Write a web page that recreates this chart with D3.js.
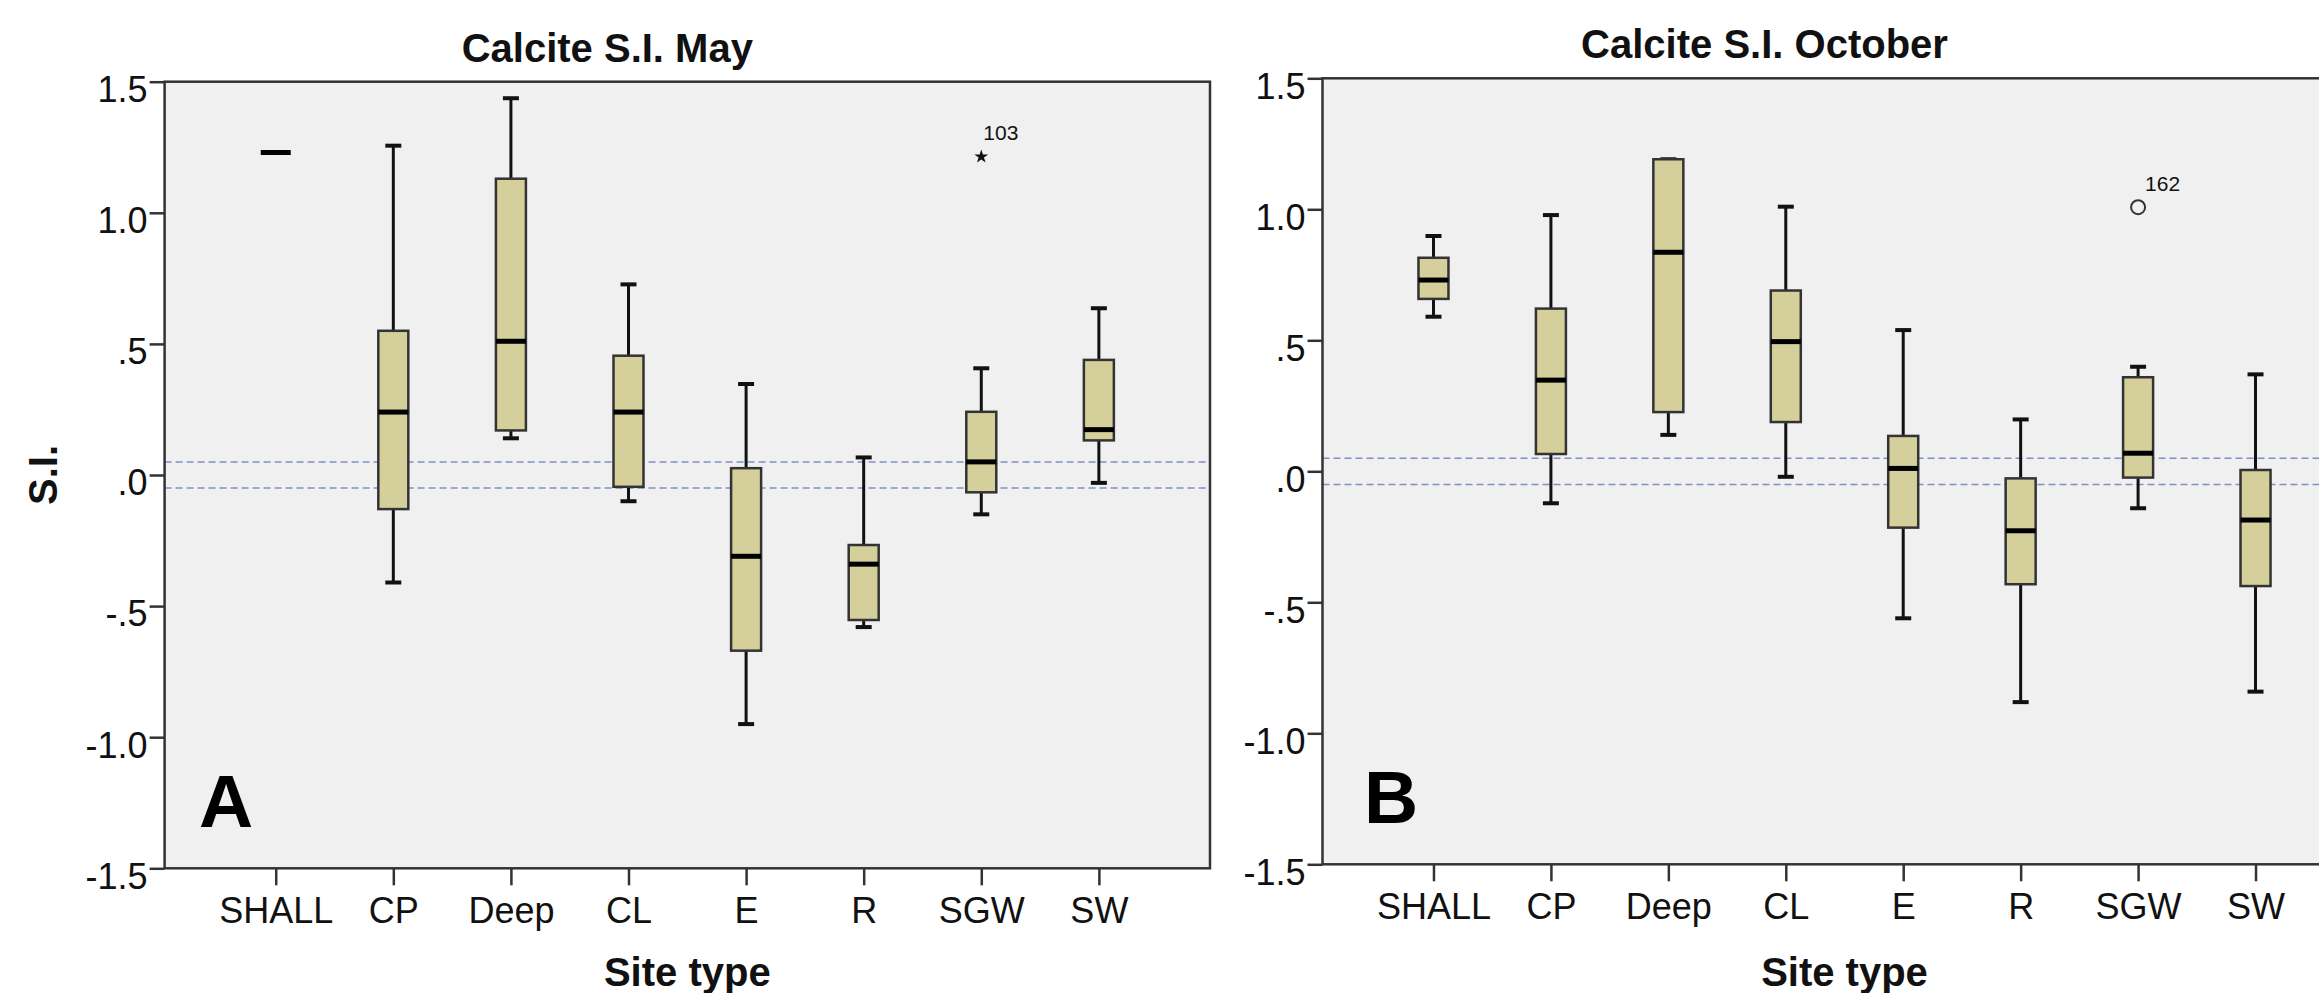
<!DOCTYPE html>
<html>
<head>
<meta charset="utf-8">
<script src="https://cdn.jsdelivr.net/npm/d3@7"></script>
<style>
  html, body { margin: 0; padding: 0; background: #fff; }
  svg { display: block; font-family: "Liberation Sans", Arial, sans-serif; }
</style>
</head>
<body>
<svg id="chart" width="2319" height="993"></svg>
<script>
// ---------- data ----------
const categories = ["SHALL", "CP", "Deep", "CL", "E", "R", "SGW", "SW"];
const yTickValues = [-1.5, -1.0, -0.5, 0, 0.5, 1.0, 1.5];
const yTickLabels = ["-1.5", "-1.0", "-.5", ".0", ".5", "1.0", "1.5"];
const refLines = [0.05, -0.05];

// Calcite S.I. May
const mayLow  = [1.23, -0.41, 0.14, -0.10, -0.95, -0.58, -0.15, -0.03];
const mayQ1   = [1.23, -0.13, 0.17, -0.045, -0.67, -0.553, -0.066, 0.132];
const mayMed  = [1.23, 0.24, 0.51, 0.24, -0.31, -0.34, 0.05, 0.173];
const mayQ3   = [1.23, 0.55, 1.13, 0.455, 0.026, -0.267, 0.241, 0.439];
const mayHigh = [1.23, 1.256, 1.437, 0.727, 0.347, 0.067, 0.407, 0.636];
const mayOutliers = [{ cat: "SGW", value: 1.214, label: "103", kind: "extreme" }];

// Calcite S.I. October
const octLow  = [0.59, -0.122, 0.139, -0.021, -0.561, -0.881, -0.141, -0.841];
const octQ1   = [0.658, 0.066, 0.226, 0.188, -0.215, -0.431, -0.024, -0.438];
const octMed  = [0.73, 0.348, 0.836, 0.495, 0.011, -0.227, 0.069, -0.186];
const octQ3   = [0.815, 0.621, 1.191, 0.69, 0.135, -0.027, 0.359, 0.005];
const octHigh = [0.898, 0.978, 1.191, 1.01, 0.539, 0.198, 0.399, 0.370];
const octOutliers = [{ cat: "SGW", value: 1.008, label: "162", kind: "outlier" }];

// ---------- drawing ----------
const svg = d3.select("#chart");
const FILL = "#d4cf9b";
const BG = "#f0f0f0";
const DARK = "#222";

function panel(cfg) {
  const { left, right, top, bottom, title, letter, letterPos, showYTitle,
          low, q1, med, q3, high, outliers } = cfg;
  const g = svg.append("g");
  const x = d3.scalePoint().domain(categories).range([left, right]).padding(0.945);
  const y = d3.scaleLinear().domain([-1.5, 1.5]).range([bottom, top]);

  // plot background + frame
  g.append("rect")
    .attr("x", left).attr("y", top)
    .attr("width", right - left).attr("height", bottom - top)
    .attr("fill", BG).attr("stroke", "none");

  // reference dashed lines
  g.selectAll(".ref").data(refLines).join("line")
    .attr("x1", left).attr("x2", right)
    .attr("y1", d => y(d)).attr("y2", d => y(d))
    .attr("stroke", "#7f90c4").attr("stroke-width", 1.5)
    .attr("stroke-dasharray", "7,4");

  const rows = categories.map((c, i) => ({ c, low: low[i], q1: q1[i], med: med[i], q3: q3[i], high: high[i] }));
  const bw = 30, cw = 16;
  const bx = g.selectAll(".bx").data(rows).join("g");
  const hasBox = d => d.high !== d.low;

  // whiskers
  bx.filter(hasBox).append("line")
    .attr("x1", d => x(d.c)).attr("x2", d => x(d.c))
    .attr("y1", d => y(d.high)).attr("y2", d => y(d.q3))
    .attr("stroke", "#111").attr("stroke-width", 3);
  bx.filter(hasBox).append("line")
    .attr("x1", d => x(d.c)).attr("x2", d => x(d.c))
    .attr("y1", d => y(d.q1)).attr("y2", d => y(d.low))
    .attr("stroke", "#111").attr("stroke-width", 3);
  // caps
  bx.filter(hasBox).append("line")
    .attr("x1", d => x(d.c) - cw / 2).attr("x2", d => x(d.c) + cw / 2)
    .attr("y1", d => y(d.high)).attr("y2", d => y(d.high))
    .attr("stroke", "#111").attr("stroke-width", 4);
  bx.filter(hasBox).append("line")
    .attr("x1", d => x(d.c) - cw / 2).attr("x2", d => x(d.c) + cw / 2)
    .attr("y1", d => y(d.low)).attr("y2", d => y(d.low))
    .attr("stroke", "#111").attr("stroke-width", 4);
  // boxes
  bx.filter(hasBox).append("rect")
    .attr("x", d => x(d.c) - bw / 2).attr("width", bw)
    .attr("y", d => y(d.q3)).attr("height", d => y(d.q1) - y(d.q3))
    .attr("fill", FILL).attr("stroke", "#333").attr("stroke-width", 2.5);
  // medians
  bx.append("line")
    .attr("x1", d => x(d.c) - bw / 2).attr("x2", d => x(d.c) + bw / 2)
    .attr("y1", d => y(d.med)).attr("y2", d => y(d.med))
    .attr("stroke", "#000").attr("stroke-width", 5);

  // outliers
  outliers.forEach(o => {
    if (o.kind === "extreme") {
      g.append("path")
        .attr("d", d3.symbol(d3.symbolStar, 60)())
        .attr("transform", `translate(${x(o.cat)},${y(o.value)})`)
        .attr("fill", "#111");
      g.append("text").attr("x", x(o.cat) + 2).attr("y", y(o.value) - 17)
        .attr("font-size", 21).attr("fill", "#111").text(o.label);
    } else {
      g.append("circle").attr("cx", x(o.cat)).attr("cy", y(o.value)).attr("r", 7)
        .attr("fill", "none").attr("stroke", "#333").attr("stroke-width", 2);
      g.append("text").attr("x", x(o.cat) + 7).attr("y", y(o.value) - 16)
        .attr("font-size", 21).attr("fill", "#111").text(o.label);
    }
  });

  // frame
  g.append("rect")
    .attr("x", left).attr("y", top)
    .attr("width", right - left).attr("height", bottom - top)
    .attr("fill", "none").attr("stroke", "#333").attr("stroke-width", 2.5);

  // y axis
  const ya = g.append("g").attr("transform", `translate(${left},0)`)
    .call(d3.axisLeft(y).tickValues(yTickValues)
      .tickFormat((d, i) => yTickLabels[i]).tickSize(15).tickPadding(2));
  ya.select(".domain").remove();
  ya.selectAll(".tick line").attr("stroke", "#333").attr("stroke-width", 2.5);
  ya.selectAll(".tick text").attr("font-size", 36).attr("fill", "#111")
    .attr("dy", "0.55em").attr("font-family", "Liberation Sans, Arial, sans-serif");

  // x axis
  const xa = g.append("g").attr("transform", `translate(0,${bottom})`)
    .call(d3.axisBottom(x).tickSize(17).tickPadding(12));
  xa.select(".domain").remove();
  xa.selectAll(".tick line").attr("stroke", "#333").attr("stroke-width", 2.5);
  xa.selectAll(".tick text").attr("font-size", 36).attr("fill", "#111")
    .attr("font-family", "Liberation Sans, Arial, sans-serif");

  // titles
  g.append("text").attr("x", (left + right) / 2 - 80).attr("y", top - 20)
    .attr("text-anchor", "middle").attr("font-size", 40).attr("font-weight", "bold")
    .attr("fill", "#111").text(title);
  g.append("text").attr("x", (left + right) / 2).attr("y", 986)
    .attr("text-anchor", "middle").attr("font-size", 40).attr("font-weight", "bold")
    .attr("fill", "#111").text("Site type");
  if (showYTitle) {
    g.append("text").attr("transform", `translate(57,${(top + bottom) / 2}) rotate(-90)`)
      .attr("text-anchor", "middle").attr("font-size", 40).attr("font-weight", "bold")
      .attr("fill", "#111").text("S.I.");
  }
  g.append("text").attr("x", letterPos[0]).attr("y", letterPos[1])
    .attr("font-size", 75).attr("font-weight", "bold").attr("fill", "#000").text(letter);
}

panel({ left: 164.6, right: 1210, top: 81.7, bottom: 868.3,
  title: "Calcite S.I. May", letter: "A", letterPos: [199, 827], showYTitle: true,
  low: mayLow, q1: mayQ1, med: mayMed, q3: mayQ3, high: mayHigh, outliers: mayOutliers });

panel({ left: 1322.5, right: 2366.5, top: 78.3, bottom: 864.3,
  title: "Calcite S.I. October", letter: "B", letterPos: [1364, 823], showYTitle: false,
  low: octLow, q1: octQ1, med: octMed, q3: octQ3, high: octHigh, outliers: octOutliers });
</script>
</body>
</html>
